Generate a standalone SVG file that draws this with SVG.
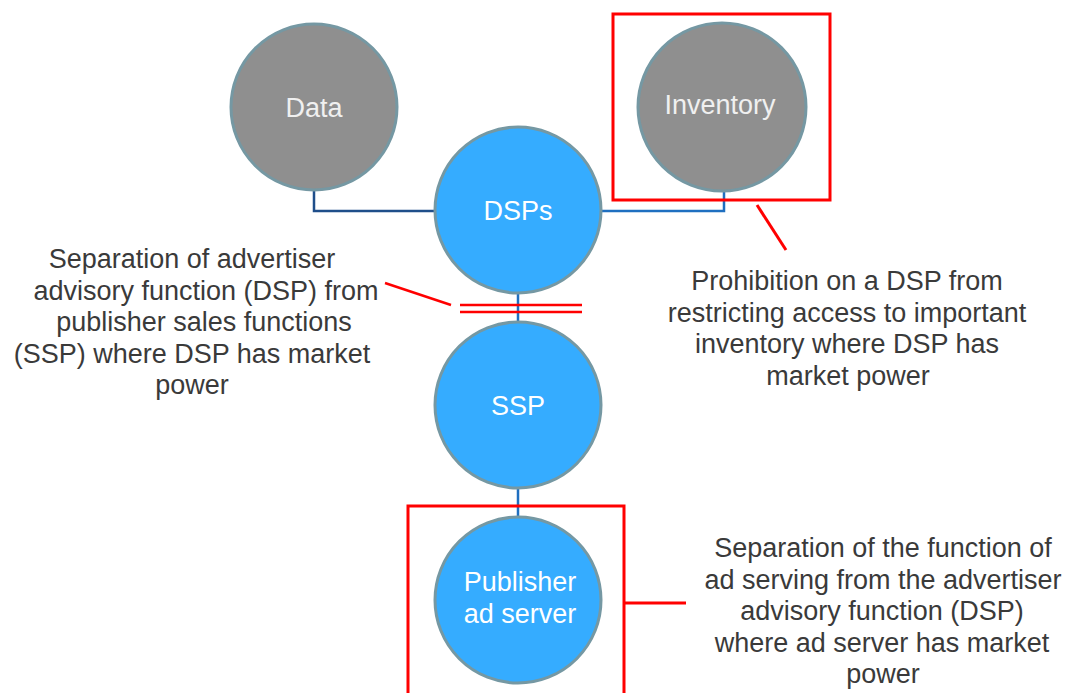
<svg xmlns="http://www.w3.org/2000/svg" width="1067" height="693" viewBox="0 0 1067 693">
<style>
.gray{fill:#8f8f8f;stroke:#7598a3;stroke-width:3}
.blue{fill:#35acff;stroke:#7598a3;stroke-width:3}
.nt{font-family:"Liberation Sans",Arial,sans-serif;font-size:27px;fill:#ffffff;text-anchor:middle}
.nt2{font-family:"Liberation Sans",Arial,sans-serif;font-size:27px;fill:#f0f0f0;text-anchor:middle}
.lb{font-family:"Liberation Sans",Arial,sans-serif;font-size:27px;fill:#3a3a3a;text-anchor:middle}
.conn{fill:none;stroke:#1f6fc0;stroke-width:2.5}
.red{fill:none;stroke:#ff0000;stroke-width:3}
</style>
<rect width="1067" height="693" fill="#ffffff"/>
<g id="connectors">
<path class="conn" d="M314,191 V211 H435" style="stroke:#1f4e8a"/>
<path class="conn" d="M724,191 V211 H602"/>
<path class="conn" d="M518,293 V323"/>
<path class="conn" d="M518,488 V517"/>
</g>
<g id="annotations">
<rect class="red" x="613" y="14" width="217" height="186"/>
<path class="red" d="M757,205 L786,250"/>
<path class="red" d="M460,305 H582 M460,312 H582" style="stroke-width:2.5"/>
<path class="red" d="M385,283 L451,305" style="stroke-width:2.5"/>
<path class="red" d="M408,695 V506 H624 V695"/>
<path class="red" d="M624,603 H686"/>
</g>
<g id="node-data">
<circle class="gray" cx="314" cy="107" r="83"/>
<text class="nt2" x="314" y="116.5">Data</text>
</g>
<g id="node-inventory">
<circle class="gray" cx="722" cy="107" r="84"/>
<text class="nt2" x="720" y="114">Inventory</text>
</g>
<g id="node-dsps">
<circle class="blue" cx="518" cy="210" r="83"/>
<text class="nt" x="518" y="220">DSPs</text>
</g>
<g id="node-ssp">
<circle class="blue" cx="518" cy="405" r="83"/>
<text class="nt" x="518" y="415">SSP</text>
</g>
<g id="node-adserver">
<circle class="blue" cx="518" cy="600" r="83"/>
<text class="nt" x="520" y="591">Publisher</text>
<text class="nt" x="520" y="623">ad server</text>
</g>
<g id="label-left">
<text class="lb" x="192" y="268">Separation of advertiser</text>
<text class="lb" x="206" y="299.5">advisory function (DSP) from</text>
<text class="lb" x="204" y="331">publisher sales functions</text>
<text class="lb" x="192" y="362.5">(SSP) where DSP has market</text>
<text class="lb" x="192" y="394">power</text>
</g>
<g id="label-right">
<text class="lb" x="847" y="290">Prohibition on a DSP from</text>
<text class="lb" x="847" y="321.7">restricting access to important</text>
<text class="lb" x="847" y="353.4">inventory where DSP has</text>
<text class="lb" x="848" y="385">market power</text>
</g>
<g id="label-bottom">
<text class="lb" x="883" y="557">Separation of the function of</text>
<text class="lb" x="883" y="588.5">ad serving from the advertiser</text>
<text class="lb" x="882" y="620">advisory function (DSP)</text>
<text class="lb" x="882" y="651.5">where ad server has market</text>
<text class="lb" x="883" y="683">power</text>
</g>
</svg>
